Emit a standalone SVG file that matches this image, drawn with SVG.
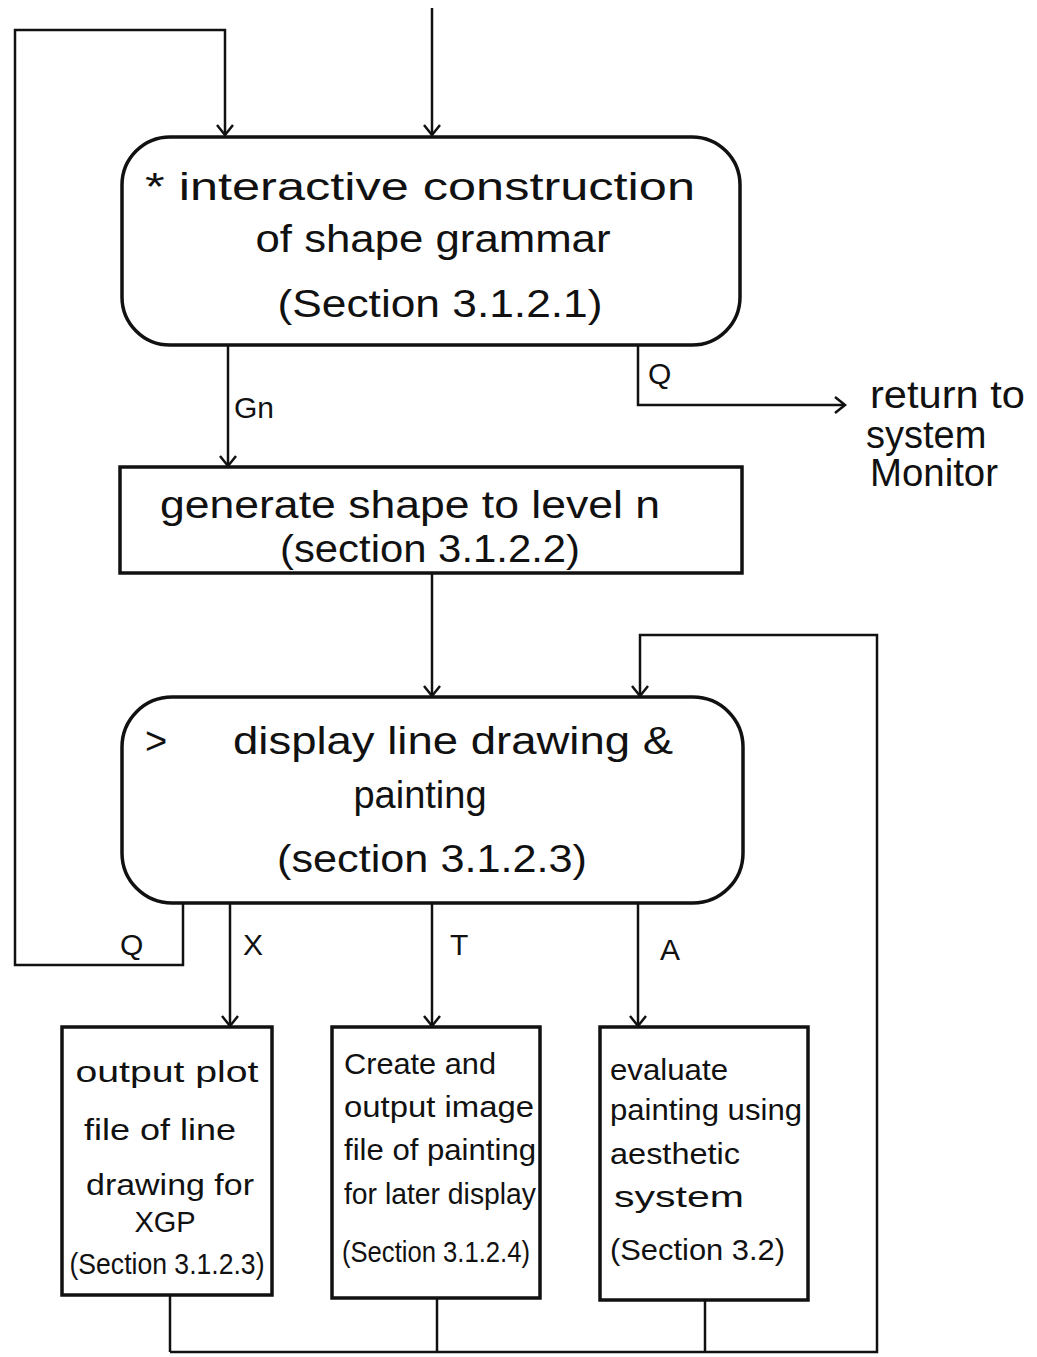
<svg xmlns="http://www.w3.org/2000/svg" width="1037" height="1357" viewBox="0 0 1037 1357">
<defs>
<marker id="arr" viewBox="-12 -10 14 20" markerWidth="14" markerHeight="20" refX="0" refY="0" orient="auto" markerUnits="userSpaceOnUse">
<path d="M-10,-8 L0,0 L-10,8" fill="none" stroke="#111" stroke-width="2.5"/>
</marker>
<style>
.box{fill:#fff;stroke:#111;stroke-width:3.5}
.ln{fill:none;stroke:#111;stroke-width:2.5}
.big{font-family:"Liberation Sans",Arial,sans-serif;font-size:38px;fill:#111}
.sm{font-family:"Liberation Sans",Arial,sans-serif;font-size:29px;fill:#111}
.lab{font-family:"Liberation Sans",Arial,sans-serif;font-size:30px;fill:#111}
</style>
</defs>
<rect width="1037" height="1357" fill="#fff"/>
<g id="connectors">
<line class="ln" x1="432" y1="8" x2="432" y2="135" marker-end="url(#arr)"/>
<polyline class="ln" points="183,903 183,965 15,965 15,30 225,30 225,135" marker-end="url(#arr)"/>
<line class="ln" x1="228" y1="345" x2="228" y2="466" marker-end="url(#arr)"/>
<polyline class="ln" points="638,345 638,405 845,405" marker-end="url(#arr)"/>
<line class="ln" x1="432" y1="573" x2="432" y2="696" marker-end="url(#arr)"/>
<line class="ln" x1="230" y1="903" x2="230" y2="1026" marker-end="url(#arr)"/>
<line class="ln" x1="432" y1="903" x2="432" y2="1026" marker-end="url(#arr)"/>
<line class="ln" x1="638" y1="903" x2="638" y2="1026" marker-end="url(#arr)"/>
<line class="ln" x1="170" y1="1295" x2="170" y2="1352"/>
<line class="ln" x1="437" y1="1298" x2="437" y2="1352"/>
<line class="ln" x1="705" y1="1300" x2="705" y2="1352"/>
<polyline class="ln" points="170,1352 877,1352 877,635 640,635 640,696" marker-end="url(#arr)"/>
<text class="lab" x="234" y="418" font-size="26">Gn</text>
<text class="lab" x="648" y="384" font-size="22">Q</text>
<text class="lab" x="120" y="955">Q</text>
<text class="lab" x="243" y="955">X</text>
<text class="lab" x="450" y="955">T</text>
<text class="lab" x="660" y="960">A</text>
</g>
<g id="n1">
<rect class="box" x="122" y="137" width="618" height="208" rx="48" ry="48"/>
<text class="big" x="145" y="200" textLength="550" lengthAdjust="spacingAndGlyphs">* interactive construction</text>
<text class="big" x="433" y="252" text-anchor="middle" textLength="355" lengthAdjust="spacingAndGlyphs">of shape grammar</text>
<text class="big" x="440" y="317" text-anchor="middle" textLength="325" lengthAdjust="spacingAndGlyphs">(Section 3.1.2.1)</text>
</g>
<g id="n2">
<rect class="box" x="120" y="467" width="622" height="106"/>
<text class="big" x="410" y="518" text-anchor="middle" textLength="500" lengthAdjust="spacingAndGlyphs">generate shape to level n</text>
<text class="big" x="430" y="562" text-anchor="middle" textLength="300" lengthAdjust="spacingAndGlyphs">(section 3.1.2.2)</text>
</g>
<g id="n3">
<rect class="box" x="122" y="697" width="621" height="206" rx="50" ry="50"/>
<text class="big" x="145" y="754">&gt;</text>
<text class="big" x="233" y="754" textLength="440" lengthAdjust="spacingAndGlyphs">display line drawing &amp;</text>
<text class="big" x="420" y="808" text-anchor="middle">painting</text>
<text class="big" x="432" y="872" text-anchor="middle" textLength="310" lengthAdjust="spacingAndGlyphs">(section 3.1.2.3)</text>
</g>
<g id="n4">
<text class="big" x="870" y="408" font-size="31" textLength="155" lengthAdjust="spacingAndGlyphs">return to</text>
<text class="big" x="866" y="448" font-size="31">system</text>
<text class="big" x="870" y="486" font-size="31" textLength="128" lengthAdjust="spacingAndGlyphs">Monitor</text>
</g>
<g id="n5">
<rect class="box" x="62" y="1027" width="210" height="268"/>
<text class="sm" x="167" y="1082" text-anchor="middle" textLength="183" lengthAdjust="spacingAndGlyphs">output plot</text>
<text class="sm" x="160" y="1140" text-anchor="middle" textLength="152" lengthAdjust="spacingAndGlyphs">file of line</text>
<text class="sm" x="170" y="1195" text-anchor="middle" textLength="168" lengthAdjust="spacingAndGlyphs">drawing for</text>
<text class="sm" x="165" y="1232" text-anchor="middle">XGP</text>
<text class="sm" x="167" y="1274" text-anchor="middle" font-size="24" textLength="195" lengthAdjust="spacingAndGlyphs">(Section 3.1.2.3)</text>
</g>
<g id="n6">
<rect class="box" x="332" y="1027" width="208" height="271"/>
<text class="sm" x="344" y="1074" textLength="152" lengthAdjust="spacingAndGlyphs">Create and</text>
<text class="sm" x="344" y="1117" textLength="190" lengthAdjust="spacingAndGlyphs">output image</text>
<text class="sm" x="344" y="1160" textLength="192" lengthAdjust="spacingAndGlyphs">file of painting</text>
<text class="sm" x="344" y="1204" textLength="192" lengthAdjust="spacingAndGlyphs">for later display</text>
<text class="sm" x="342" y="1262" font-size="26" textLength="188" lengthAdjust="spacingAndGlyphs">(Section 3.1.2.4)</text>
</g>
<g id="n7">
<rect class="box" x="600" y="1027" width="208" height="273"/>
<text class="sm" x="610" y="1080" textLength="118" lengthAdjust="spacingAndGlyphs">evaluate</text>
<text class="sm" x="610" y="1120" textLength="192" lengthAdjust="spacingAndGlyphs">painting using</text>
<text class="sm" x="610" y="1164" textLength="130" lengthAdjust="spacingAndGlyphs">aesthetic</text>
<text class="sm" x="614" y="1207" textLength="130" lengthAdjust="spacingAndGlyphs">system</text>
<text class="sm" x="610" y="1260" font-size="27" textLength="175" lengthAdjust="spacingAndGlyphs">(Section 3.2)</text>
</g>
</svg>
